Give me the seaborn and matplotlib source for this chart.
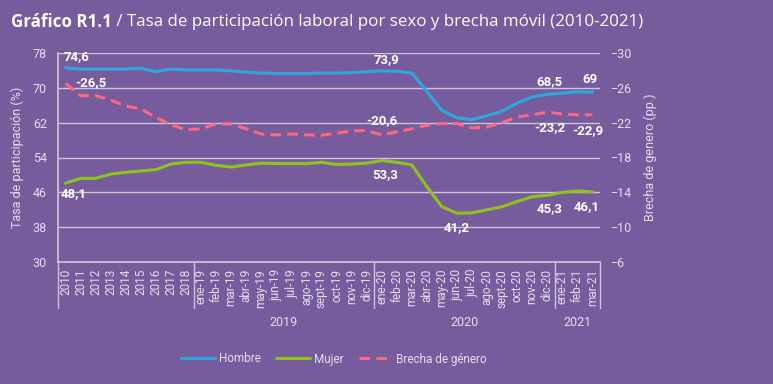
import numpy as np
import pandas as pd
import matplotlib
matplotlib.use('Agg')
import matplotlib.pyplot as plt
import matplotlib.transforms as mtransforms
import seaborn as sns

# --- data ---
categories = (
    [str(y) for y in range(2010, 2019)]
    + [m + '-19' for m in ['ene', 'feb', 'mar', 'abr', 'may', 'jun', 'jul', 'ago', 'sept', 'oct', 'nov', 'dic']]
    + [m + '-20' for m in ['ene', 'feb', 'mar', 'abr', 'may', 'jun', 'jul', 'ago', 'sept', 'oct', 'nov', 'dic']]
    + ['ene-21', 'feb-21', 'mar-21']
)
hombre = [74.6, 74.3, 74.3, 74.3, 74.3, 74.5, 73.7, 74.3, 74.1,
          74.1, 74.1, 73.9, 73.6, 73.4, 73.3, 73.3, 73.3, 73.4, 73.4, 73.5, 73.7,
          73.9, 73.8, 73.4, 69.2, 64.8, 63.1, 62.7, 63.6, 64.6, 66.5, 67.9, 68.5,
          68.8, 69.1, 69.0]
mujer = [48.1, 49.2, 49.2, 50.2, 50.6, 50.9, 51.2, 52.5, 52.9,
         52.9, 52.2, 51.8, 52.3, 52.7, 52.6, 52.6, 52.6, 52.9, 52.4, 52.5, 52.7,
         53.3, 52.9, 52.3, 47.3, 42.7, 41.2, 41.3, 42.0, 42.7, 43.9, 45.0, 45.3,
         46.0, 46.3, 46.1]
brecha = [26.5, 25.1, 25.1, 24.6, 23.9, 23.6, 22.6, 21.75, 21.2,
          21.3, 21.85, 21.85, 21.3, 20.7, 20.6, 20.7, 20.6, 20.55, 20.8, 21.05, 21.1,
          20.6, 20.95, 21.3, 21.7, 21.9, 21.9, 21.4, 21.5, 22.0, 22.65, 22.9, 23.2,
          23.0, 22.9, 22.9]
groups = ['2019', '2020', '2021']
group_bounds = [(9, 20), (21, 32), (33, 35)]

left_ticks = [30, 38, 46, 54, 62, 70, 78]
right_ticks = [-30, -26, -22, -18, -14, -10, -6]

BG = '#765c9c'
GRID = '#cdc6da'
TXT = '#e4dfee'
C_H = '#2ea6de'
C_M = '#8dc21f'
C_B = '#ff6682'

sns.set_theme(style='white')
plt.rcParams['font.family'] = ['Roboto', 'DejaVu Sans']

df = pd.DataFrame({'x': np.arange(len(categories)), 'Hombre': hombre,
                   'Mujer': mujer, 'Brecha': [-b for b in brecha]})

fig = plt.figure(figsize=(7.73, 3.84), dpi=100, facecolor=BG)
ax = fig.add_axes([58 / 773, 1 - 262 / 384, 542 / 773, 209 / 384])
ax.set_facecolor(BG)
ax2 = ax.twinx()

sns.lineplot(data=df, x='x', y='Hombre', ax=ax, color=C_H, lw=2.2, label='Hombre', legend=False)
sns.lineplot(data=df, x='x', y='Mujer', ax=ax, color=C_M, lw=2.2, label='Mujer', legend=False)
sns.lineplot(data=df, x='x', y='Brecha', ax=ax2, color=C_B, lw=2.2, label='Brecha de género',
             legend=False, dashes=False)
ax2.lines[0].set_dashes([3.5, 2.0])

ax.set_xlim(-0.5, len(categories) - 0.5)
ax.set_ylim(30, 78)
ax2.set_ylim(-6, -30)
ax.set_yticks(left_ticks)
ax2.set_yticks(right_ticks)
ax.yaxis.grid(True, color=GRID, lw=1)
ax.set_axisbelow(True)
ax.set_xticks(df['x'])
ax.set_xticklabels(categories, rotation=90, fontsize=8.5, color=TXT)
ax.tick_params(axis='x', length=0, pad=5)
ax.tick_params(axis='y', length=0, pad=8, labelsize=9, labelcolor=TXT)
ax2.tick_params(axis='y', length=0, pad=8, labelsize=9, labelcolor=TXT)
ax.set_xlabel('')
ax.set_ylabel('Tasa de participación (%)', color=TXT, fontsize=9, labelpad=6)
ax2.set_ylabel('Brecha de genero (pp.)', color=TXT, fontsize=9, labelpad=8)

for a in (ax, ax2):
    for s in a.spines.values():
        s.set_visible(False)
ax.spines['bottom'].set_visible(True)
ax.spines['bottom'].set_color(GRID)
ax.spines['left'].set_visible(True)
ax.spines['left'].set_color(GRID)

# group separators and group labels below the x axis
trans = mtransforms.blended_transform_factory(ax.transData, ax.transAxes)
for xb in [-0.5, 8.5, 20.5, 32.5, len(categories) - 0.5]:
    ax.plot([xb, xb], [0, -0.22], transform=trans, color=GRID, lw=1, clip_on=False)
for g, (a0, a1) in zip(groups, group_bounds):
    ax.text((a0 + a1) / 2, -0.29, g, transform=trans, ha='center', va='center',
            fontsize=9, color=TXT)

# data labels
px = 0.72
lab = dict(color='white', fontsize=9.5, fontweight='bold', textcoords='offset points')
ax.annotate('74,6', (0, hombre[0]), xytext=(-2 * px, 5 * px), ha='left', va='bottom', **lab)
ax.annotate('48,1', (0, mujer[0]), xytext=(-5 * px, -4 * px), ha='left', va='top', **lab)
ax.annotate('73,9', (21, hombre[21]), xytext=(5 * px, 5 * px), ha='center', va='bottom', **lab)
ax.annotate('53,3', (21, mujer[21]), xytext=(3 * px, -8 * px), ha='center', va='top', **lab)
ax.annotate('41,2', (26, mujer[26]), xytext=(0, -8 * px), ha='center', va='top', **lab)
ax.annotate('45,3', (32, mujer[32]), xytext=(2 * px, -7 * px), ha='center', va='top', **lab)
ax.annotate('46,1', (35, mujer[35]), xytext=(-6 * px, -8 * px), ha='center', va='top', **lab)
ax.annotate('68,5', (32, hombre[32]), xytext=(2 * px, 6 * px), ha='center', va='bottom', **lab)
ax.annotate('69', (35, hombre[35]), xytext=(-3 * px, 6 * px), ha='center', va='bottom', **lab)
ax2.annotate('-26,5', (0, -brecha[0]), xytext=(10 * px, 1 * px), ha='left', va='center', **lab)
ax2.annotate('-20,6', (21, -brecha[21]), xytext=(0, 8 * px), ha='center', va='bottom', **lab)
ax2.annotate('-23,2', (32, -brecha[32]), xytext=(3 * px, -9 * px), ha='center', va='top', **lab)
ax2.annotate('-22,9', (35, -brecha[35]), xytext=(-5 * px, -9 * px), ha='center', va='top', **lab)

# legend
handles = [ax.lines[0], ax.lines[1], ax2.lines[0]]
fig.legend(handles, ['Hombre', 'Mujer', 'Brecha de género'], loc='center',
           bbox_to_anchor=(334 / 773, 1 - 359 / 384), ncol=3, frameon=False,
           fontsize=8.5, labelcolor=TXT, handlelength=2.9, columnspacing=1.3,
           handletextpad=0.3)

# title: bold prefix + regular text
t1 = fig.text(11 / 773, 1 - 22 / 384, 'Gráfico R1.1', fontsize=12.2, fontweight='bold',
              color='white', va='center', ha='left', family=['Open Sans', 'DejaVu Sans'])
fig.canvas.draw()
bb = t1.get_window_extent()
fig.text(bb.x1 / fig.bbox.width, 1 - 22 / 384,
         ' / Tasa de participación laboral por sexo y brecha móvil (2010-2021)',
         fontsize=12.2, color='white', va='center', ha='left', family=['Open Sans', 'DejaVu Sans'])

fig.savefig('out.png', dpi=100, facecolor=BG)
